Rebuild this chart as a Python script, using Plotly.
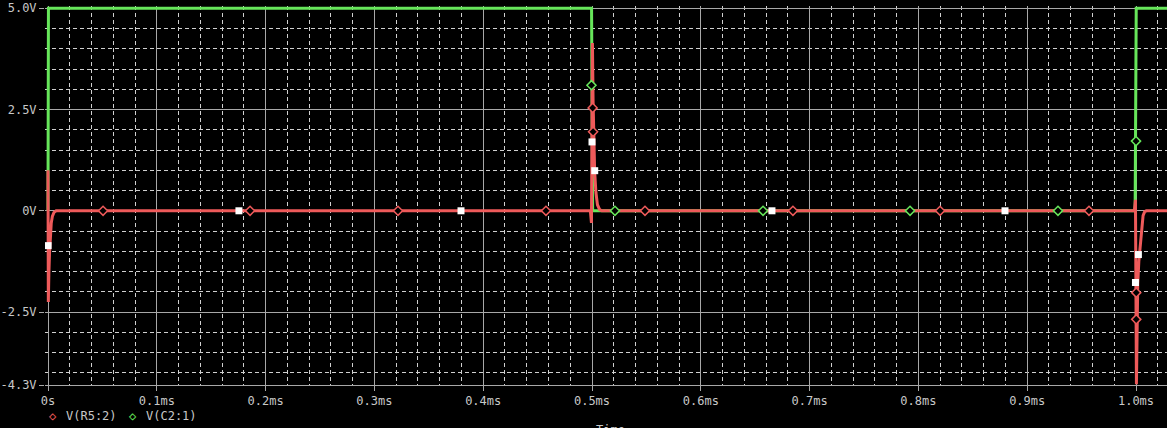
import plotly.graph_objects as go

# ---------------- data (time in ms, voltage in V) ----------------
green_t = [0.0, 0.0004, 0.4996, 0.5006, 0.9992, 1.0002, 1.03]
green_v = [0.0, 5.0, 5.0, 0.0, 0.0, 5.0, 5.0]

red_t = [0.0, 0.0003, 0.0008, 0.0014, 0.002, 0.003, 0.004, 0.0055, 0.0075,
         0.4985, 0.4995, 0.5004, 0.5010, 0.5016, 0.5024, 0.5036, 0.505, 0.507, 0.509,
         0.9985, 0.9995, 1.0004, 1.0010, 1.0016, 1.0026, 1.0038, 1.005, 1.0065, 1.008, 1.0095,
         1.03]
red_v = [1.0, -2.25, -1.55, -1.05, -0.62, -0.3, -0.14, -0.04, 0.0,
         0.0, -0.3, 4.14, 2.7, 1.75, 1.0, 0.45, 0.15, 0.03, 0.0,
         0.0, 0.27, -4.28, -2.8, -1.8, -1.25, -0.9, -0.4, -0.12, -0.02, 0.0,
         0.0]

red_mk_t = [0.0506, 0.1857, 0.3217, 0.4577, 0.5006, 0.5010, 0.5487, 0.6847, 0.8199, 0.9568, 1.0002, 1.0002]
red_mk_v = [0.0, 0.0, 0.0, 0.0, 2.54, 1.95, 0.0, 0.0, 0.0, 0.0, -2.02, -2.68]

green_mk_t = [0.4995, 0.5211, 0.6572, 0.7923, 0.9283, 1.0000]
green_mk_v = [3.1, 0.0, 0.0, 0.0, 0.0, 1.72]

white_mk_t = [0.0001, 0.1755, 0.3796, 0.5000, 0.5025, 0.6654, 0.8796, 1.0022, 0.9995]
white_mk_v = [-0.86, 0.0, 0.0, 1.70, 0.99, 0.0, 0.0, -1.08, -1.77]

x_tickvals = [0.0, 0.1, 0.2, 0.3, 0.4, 0.5, 0.6, 0.7, 0.8, 0.9, 1.0]
x_ticktext = ["0s", "0.1ms", "0.2ms", "0.3ms", "0.4ms", "0.5ms", "0.6ms", "0.7ms", "0.8ms", "0.9ms", "1.0ms"]
y_tickvals = [-4.3, -2.5, 0.0, 2.5, 5.0]
y_ticktext = ["-4.3V", "-2.5V", "0V", "2.5V", "5.0V"]

legend_names = ["V(R5:2)", "V(C2:1)"]

# ---------------- styling ----------------
RED = "#ee5a5a"
GREEN = "#66e65a"
TXT = "#c8c8c8"
FONT = "DejaVu Sans Mono"

W, H = 1167, 428
ML, MR, MT, MB = 45, 0, 6, 43

fig = go.Figure()
fig.add_trace(go.Scatter(x=green_t, y=green_v, mode="lines",
                         line=dict(color=GREEN, width=3), showlegend=False, hoverinfo="skip"))
fig.add_trace(go.Scatter(x=red_t, y=red_v, mode="lines",
                         line=dict(color=RED, width=3), showlegend=False, hoverinfo="skip"))
fig.add_trace(go.Scatter(x=green_mk_t, y=green_mk_v, mode="markers",
                         marker=dict(symbol="diamond", size=7, color="black",
                                     line=dict(color=GREEN, width=1.5)),
                         showlegend=False, hoverinfo="skip"))
fig.add_trace(go.Scatter(x=red_mk_t, y=red_mk_v, mode="markers",
                         marker=dict(symbol="diamond", size=7, color="black",
                                     line=dict(color=RED, width=1.5)),
                         showlegend=False, hoverinfo="skip"))
fig.add_trace(go.Scatter(x=white_mk_t, y=white_mk_v, mode="markers",
                         marker=dict(symbol="square", size=7, color="white",
                                     line=dict(width=0)),
                         showlegend=False, hoverinfo="skip"))

pw = W - ML - MR
x0 = -3 / 1088.0
x1 = x0 + pw / 1088.0

fig.update_xaxes(
    range=[x0, x1], tickmode="array", tickvals=x_tickvals, ticktext=x_ticktext,
    ticks="outside", ticklen=5, tickcolor="#a8a8a8", tickwidth=1,
    showgrid=True, gridcolor="#a8a8a8", gridwidth=1, automargin=False,
    zeroline=False, showline=True, linecolor="#a8a8a8", linewidth=1,
    tickfont=dict(family=FONT, size=12, color=TXT),
    minor=dict(tickmode="linear", tick0=0, dtick=0.02, showgrid=True,
               gridcolor="#d0d0d0", gridwidth=1, griddash="4px,3px", ticks=""),
)
fig.update_yaxes(
    range=[-4.3, 5.055], tickmode="array", tickvals=y_tickvals, ticktext=y_ticktext,
    ticks="outside", ticklen=5, tickcolor="#a8a8a8", tickwidth=1,
    showgrid=True, gridcolor="#a8a8a8", gridwidth=1, automargin=False,
    zeroline=False, showline=False,
    tickfont=dict(family=FONT, size=12, color=TXT),
    minor=dict(tickmode="linear", tick0=0, dtick=0.5, showgrid=True,
               gridcolor="#d0d0d0", gridwidth=1, griddash="4px,3px", ticks=""),
)


def ann(text, px, py, color, size=12, xanchor="left", yanchor="middle"):
    fig.add_annotation(text=text, xref="paper", yref="paper", x=0, y=0,
                       xanchor=xanchor, yanchor=yanchor,
                       xshift=px - ML, yshift=-(py - (H - MB)),
                       showarrow=False, font=dict(family=FONT, size=size, color=color))


ann("◇", 53, 416, RED, size=12, xanchor="center")
ann(legend_names[0], 64, 416, TXT)
ann("◇", 133, 416, GREEN, size=12, xanchor="center")
ann(legend_names[1], 144, 416, TXT)
ann("Time", 610, 421, TXT, xanchor="center", yanchor="top")

fig.update_layout(
    width=W, height=H,
    margin=dict(l=ML, r=MR, t=MT, b=MB, pad=0, autoexpand=False),
    paper_bgcolor="black", plot_bgcolor="black",
    showlegend=False,
)

fig.write_html(
    "out.html",
    config={"displayModeBar": False},
    post_script="document.body.style.margin='0';document.body.style.padding='0';"
                "document.body.style.overflow='hidden';document.body.style.background='black';",
)
